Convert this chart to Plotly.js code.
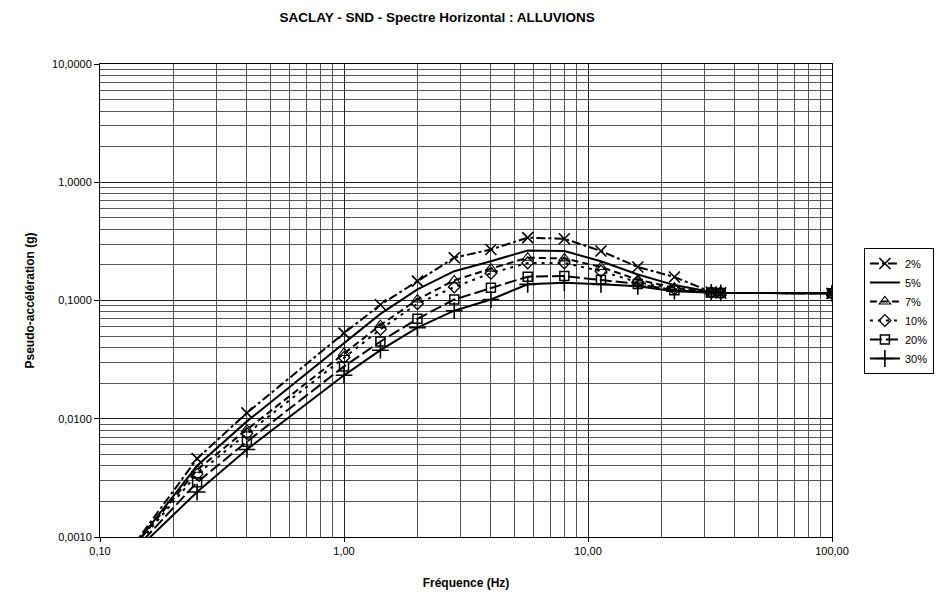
<!DOCTYPE html>
<html>
<head>
<meta charset="utf-8">
<script src="https://cdn.plot.ly/plotly-3.0.1.min.js"></script>
<style>html,body{margin:0;padding:0;background:#fff;}#chart{width:938px;height:600px;}</style>
</head>
<body>
<div id="chart"></div>
<script>
// Frequencies (Hz)
const freq = [0.1, 0.25, 0.4, 1, 1.41, 2, 2.83, 4, 5.66, 8, 11.3, 16, 22.6, 32, 35, 100];
// Pseudo-acceleration (g) per damping
const amort2  = [0.00035, 0.0046, 0.0112, 0.053, 0.092, 0.146, 0.230, 0.270, 0.340, 0.333, 0.262, 0.192, 0.158, 0.118, 0.116, 0.115];
const amort5  = [0.00036, 0.0040, 0.0095, 0.044, 0.077, 0.124, 0.177, 0.215, 0.265, 0.262, 0.215, 0.166, 0.135, 0.118, 0.116, 0.115];
const amort7  = [0.00037, 0.0037, 0.0081, 0.036, 0.062, 0.102, 0.148, 0.186, 0.230, 0.227, 0.192, 0.150, 0.128, 0.117, 0.116, 0.115];
const amort10 = [0.00037, 0.0034, 0.0075, 0.033, 0.057, 0.094, 0.130, 0.170, 0.208, 0.208, 0.177, 0.143, 0.125, 0.117, 0.116, 0.115];
const amort20 = [0.00038, 0.0029, 0.0064, 0.0277, 0.045, 0.070, 0.102, 0.128, 0.159, 0.161, 0.150, 0.138, 0.122, 0.117, 0.116, 0.115];
const amort30 = [0.00039, 0.0024, 0.0055, 0.0233, 0.038, 0.059, 0.082, 0.102, 0.137, 0.141, 0.137, 0.132, 0.120, 0.117, 0.116, 0.115];
const seriesNames = ['2%', '5%', '7%', '10%', '20%', '30%'];
const xTickVals = [0.1, 1, 10, 100];
const xTickText = ['0,10', '1,00', '10,00', '100,00'];
const yTickVals = [0.001, 0.01, 0.1, 1, 10];
const yTickText = ['0,0010', '0,0100', '0,1000', '1,0000', '10,0000'];

const seriesData = [amort2, amort5, amort7, amort10, amort20, amort30];
const styles = [
  {dash: '9px,3px,3px,3px', mode: 'lines+markers', symbol: 'x-thin-open', size: 11, lw: 1.6},
  {dash: 'solid', mode: 'lines', symbol: 'circle', size: 1, lw: 1},
  {dash: '7px,4px', mode: 'lines+markers', symbol: 'triangle-up-open', size: 10, lw: 1.1},
  {dash: '3px,5px', mode: 'lines+markers', symbol: 'diamond-open', size: 9, lw: 1.3},
  {dash: '12px,4px', mode: 'lines+markers', symbol: 'square-open', size: 9, lw: 1.5},
  {dash: 'solid', mode: 'lines+markers', symbol: 'cross-thin-open', size: 12, lw: 1.6}
];

const traces = seriesData.map((ys, i) => ({
  x: freq, y: ys, name: seriesNames[i], type: 'scatter', mode: styles[i].mode,
  line: {color: '#000', width: 2, dash: styles[i].dash},
  marker: {symbol: styles[i].symbol, size: styles[i].size, color: '#000', line: {color: '#000', width: styles[i].lw}}
}));

const font = {family: 'Liberation Sans, Arial, sans-serif', color: '#000'};
const layout = {
  width: 938, height: 600,
  paper_bgcolor: '#fff', plot_bgcolor: '#fff',
  margin: {l: 100, r: 106, t: 64, b: 63, autoexpand: false},
  font: Object.assign({size: 11}, font),
  title: {text: '<b>SACLAY - SND - Spectre Horizontal : ALLUVIONS</b>', font: Object.assign({size: 13.5}, font),
          x: 0.466, xref: 'container', xanchor: 'center', y: 0.972, yref: 'container', yanchor: 'middle'},
  xaxis: {type: 'log', range: [-1, 2], tickvals: xTickVals, ticktext: xTickText,
          showline: true, linecolor: '#000', linewidth: 1, mirror: true,
          ticks: 'outside', ticklen: 4, tickcolor: '#000',
          showgrid: true, gridcolor: '#222', gridwidth: 1, zeroline: false,
          minor: {showgrid: true, gridcolor: '#555', gridwidth: 1, dtick: 'D1', ticks: ''},
          tickfont: Object.assign({size: 11}, font),
          title: {text: '<b>Fréquence (Hz)</b>', font: Object.assign({size: 12}, font), standoff: 22}},
  yaxis: {type: 'log', range: [-3, 1], tickvals: yTickVals, ticktext: yTickText,
          showline: true, linecolor: '#000', linewidth: 1, mirror: true,
          ticks: 'outside', ticklen: 5, tickcolor: '#000',
          showgrid: true, gridcolor: '#222', gridwidth: 1, zeroline: false,
          minor: {showgrid: true, gridcolor: '#555', gridwidth: 1, dtick: 'D1', ticks: ''},
          tickfont: Object.assign({size: 11}, font),
          title: {text: '<b>Pseudo-accélération (g)</b>', font: Object.assign({size: 12}, font), standoff: 14}},
  legend: {xref: 'container', x: 0.921, xanchor: 'left', y: 0.611, yanchor: 'top', bgcolor: '#fff',
           bordercolor: '#000', borderwidth: 1, font: Object.assign({size: 11}, font),
           itemwidth: 30, tracegroupgap: 0},
  showlegend: true
};

Plotly.newPlot('chart', traces, layout, {staticPlot: true, displayModeBar: false});
</script>
</body>
</html>
